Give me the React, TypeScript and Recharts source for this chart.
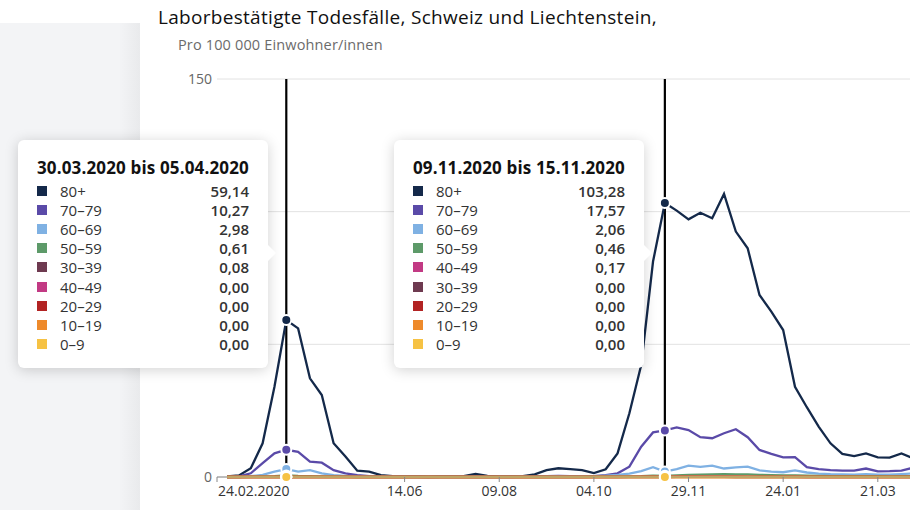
import React from 'react';
import { LineChart, Line, XAxis, YAxis, CartesianGrid, ReferenceLine } from 'recharts';

// weekly values per 100 000 inhabitants, first week 24.02.2020 – 01.03.2020
const age80 = [
  0.2, 0.6, 3.3, 12.7, 34.0, 59.14, 56.0, 37.2, 30.9, 12.7,
  7.7, 2.4, 2.0, 0.7, 0.3, 0.2, 0.2, 0.1, 0.2, 0.2,
  0.3, 1.2, 0.4, 0.2, 0.2, 0.3, 1.0, 2.6, 3.3, 3.0,
  2.6, 1.5, 2.9, 8.9, 24.0, 42.2, 81.2, 103.28, 100.4, 97.1,
  99.6, 97.5, 106.7, 92.5, 86.2, 68.6, 62.3, 55.4, 34.0, 26.3,
  19.0, 12.7, 8.7, 7.9, 8.9, 7.4, 7.3, 8.9, 7.0,
];
const age70 = [
  0.0, 0.2, 1.4, 5.2, 8.9, 10.27, 9.5, 5.8, 5.4, 2.6,
  1.4, 0.7, 0.3, 0.2, 0.1, 0.1, 0.1, 0.0, 0.1, 0.1,
  0.1, 0.2, 0.1, 0.1, 0.1, 0.1, 0.2, 0.3, 0.4, 0.3,
  0.3, 0.3, 0.7, 1.4, 3.9, 11.4, 16.8, 17.57, 18.7, 17.7,
  15.0, 14.6, 16.5, 18.0, 15.0, 10.2, 8.7, 7.4, 7.5, 3.7,
  3.0, 2.6, 2.4, 2.4, 3.2, 2.1, 2.2, 2.4, 3.5,
];
const age60 = [
  0.0, 0.0, 0.3, 0.8, 2.0, 2.98, 2.0, 2.6, 1.4, 0.7,
  0.4, 0.2, 0.1, 0.1, 0.0, 0.0, 0.0, 0.0, 0.0, 0.0,
  0.0, 0.1, 0.0, 0.0, 0.0, 0.1, 0.1, 0.1, 0.2, 0.1,
  0.2, 0.3, 0.5, 0.8, 1.3, 2.2, 3.7, 2.06, 3.0, 4.3,
  3.8, 4.3, 3.2, 3.6, 3.9, 2.5, 2.0, 1.8, 2.5, 1.7,
  1.3, 1.1, 1.0, 0.9, 1.1, 0.9, 0.9, 1.1, 1.3,
];
const age50 = [
  0.0, 0.0, 0.1, 0.2, 0.3, 0.61, 0.4, 0.3, 0.2, 0.1,
  0.1, 0.0, 0.0, 0.0, 0.0, 0.0, 0.0, 0.0, 0.0, 0.0,
  0.0, 0.0, 0.0, 0.0, 0.0, 0.0, 0.0, 0.0, 0.0, 0.0,
  0.0, 0.1, 0.1, 0.1, 0.2, 0.3, 0.5, 0.46, 0.6, 0.8,
  0.9, 1.0, 1.1, 1.0, 1.0, 0.8, 0.7, 0.6, 0.6, 0.5,
  0.4, 0.3, 0.3, 0.3, 0.3, 0.3, 0.2, 0.3, 0.3,
];
const age40 = [
  0.0, 0.0, 0.0, 0.0, 0.0, 0.0, 0.05, 0.0, 0.0, 0.0,
  0.0, 0.0, 0.0, 0.0, 0.0, 0.0, 0.0, 0.0, 0.0, 0.0,
  0.0, 0.0, 0.0, 0.0, 0.0, 0.0, 0.0, 0.0, 0.0, 0.0,
  0.0, 0.0, 0.0, 0.0, 0.05, 0.1, 0.1, 0.17, 0.2, 0.2,
  0.2, 0.2, 0.2, 0.2, 0.1, 0.1, 0.1, 0.1, 0.1, 0.0,
  0.0, 0.0, 0.0, 0.0, 0.0, 0.0, 0.0, 0.0, 0.0,
];
const age30 = [
  0.0, 0.0, 0.0, 0.0, 0.0, 0.08, 0.0, 0.0, 0.0, 0.0,
  0.0, 0.0, 0.0, 0.0, 0.0, 0.0, 0.0, 0.0, 0.0, 0.0,
  0.0, 0.0, 0.0, 0.0, 0.0, 0.0, 0.0, 0.0, 0.0, 0.0,
  0.0, 0.0, 0.0, 0.0, 0.0, 0.0, 0.05, 0.0, 0.05, 0.05,
  0.05, 0.05, 0.05, 0.0, 0.0, 0.0, 0.0, 0.0, 0.0, 0.0,
  0.0, 0.0, 0.0, 0.0, 0.0, 0.0, 0.0, 0.0, 0.0,
];
const age20 = [
  0, 0, 0, 0, 0, 0, 0, 0, 0, 0,
  0, 0, 0, 0, 0, 0, 0, 0, 0, 0,
  0, 0, 0, 0, 0, 0, 0, 0, 0, 0,
  0, 0, 0, 0, 0, 0, 0, 0, 0, 0,
  0, 0, 0, 0, 0, 0, 0, 0, 0, 0,
  0, 0, 0, 0, 0, 0, 0, 0, 0,
];
const age10 = [
  0, 0, 0, 0, 0, 0, 0, 0, 0, 0,
  0, 0, 0, 0, 0, 0, 0, 0, 0, 0,
  0, 0, 0, 0, 0, 0, 0, 0, 0, 0,
  0, 0, 0, 0, 0, 0, 0, 0, 0, 0,
  0, 0, 0, 0, 0, 0, 0, 0, 0, 0,
  0, 0, 0, 0, 0, 0, 0, 0, 0,
];
const age0 = [
  0, 0, 0, 0, 0, 0, 0, 0, 0, 0,
  0, 0, 0, 0, 0, 0, 0, 0, 0, 0,
  0, 0, 0, 0, 0, 0, 0, 0, 0, 0,
  0, 0, 0, 0, 0, 0, 0, 0, 0, 0,
  0, 0, 0, 0, 0, 0, 0, 0, 0, 0,
  0, 0, 0, 0, 0, 0, 0, 0, 0,
];

const groupNames = ['80+', '70–79', '60–69', '50–59', '40–49', '30–39', '20–29', '10–19', '0–9'];
const groupValues = [age80, age70, age60, age50, age40, age30, age20, age10, age0];
const groupColors = ['#14294a', '#5a4aa8', '#7fb1e3', '#5d9a69', '#c23a84', '#6e3a50', '#b22323', '#ee8a2b', '#f6c244'];

// x axis: days since 24.02.2020
const tickDays = [0, 111, 167, 223, 279, 335, 391];
const tickLabels = ['24.02.2020', '14.06', '09.08', '04.10', '29.11', '24.01', '21.03'];

// weeks with a pinned tooltip
const pinnedWeeks = [5, 37];
const pinnedLeft = [18, 394];

const FONT = "'Open Sans', 'Noto Sans', sans-serif";

const data = age80.map((_, i) => {
  const row: any = { day: 6 + 7 * i };
  groupValues.forEach((vals, k) => {
    row[`s${k}`] = vals[i];
  });
  return row;
});

const fmtDate = (d: Date) =>
  `${String(d.getUTCDate()).padStart(2, '0')}.${String(d.getUTCMonth() + 1).padStart(2, '0')}.${d.getUTCFullYear()}`;

const weekTitle = (i: number) => {
  const start = new Date(Date.UTC(2020, 1, 24 + 7 * i));
  const end = new Date(Date.UTC(2020, 1, 24 + 7 * i + 6));
  return `${fmtDate(start)} bis ${fmtDate(end)}`;
};

const fmtValue = (v: number) => v.toFixed(2).replace('.', ',');

const makeDot = (color: string) => (props: any) => {
  const { cx, cy, index } = props;
  if (!pinnedWeeks.includes(index)) return <g key={`d-${index}`} />;
  return <circle key={`d-${index}`} cx={cx} cy={cy} r={5} fill={color} stroke="#fff" strokeWidth={2} />;
};

const XTick = (props: any) => {
  const { x, y, payload, index } = props;
  const first = index === 0;
  const label = tickLabels[tickDays.indexOf(payload.value)];
  return (
    <text
      x={first ? x + 1 : x}
      y={y}
      dy="0.71em"
      textAnchor={first ? 'start' : 'middle'}
      fill="#333"
      fontSize={14}
      fontFamily={FONT}
    >
      {label}
    </text>
  );
};

const PinnedTooltip = ({ week, left }: { week: number; left: number }) => {
  const rows = groupNames
    .map((name, k) => ({ name, color: groupColors[k], value: groupValues[k][week] }))
    .sort((a, b) => b.value - a.value);
  return (
    <div
      style={{
        position: 'absolute',
        left,
        top: 140,
        width: 250,
        height: 228,
        background: '#fff',
        borderRadius: 6,
        boxShadow: '0 2px 14px rgba(0,0,0,0.18)',
        boxSizing: 'border-box',
        padding: '17px 19px 0 19px',
        fontFamily: FONT,
        color: '#333',
      }}
    >
      <div
        style={{
          fontWeight: 700,
          fontSize: 17,
          letterSpacing: 0.15,
          lineHeight: '22px',
          color: '#111',
          marginBottom: 2.5,
          whiteSpace: 'nowrap',
        }}
      >
        {weekTitle(week)}
      </div>
      {rows.map((r) => (
        <div key={r.name} style={{ display: 'flex', alignItems: 'center', height: 19.1, fontSize: 15 }}>
          <span style={{ width: 10, height: 10, background: r.color, marginRight: 13, flex: 'none' }} />
          <span style={{ flex: 1 }}>{r.name}</span>
          <span style={{ fontWeight: 600 }}>{fmtValue(r.value)}</span>
        </div>
      ))}
      <div
        style={{
          position: 'absolute',
          right: -8,
          top: 105,
          width: 0,
          height: 0,
          borderTop: '8px solid transparent',
          borderBottom: '8px solid transparent',
          borderLeft: '8px solid #fff',
        }}
      />
    </div>
  );
};

export default function App() {
  return (
    <div
      style={{
        position: 'fixed',
        left: 0,
        top: 0,
        width: 910,
        height: 510,
        overflow: 'hidden',
        background: '#fff',
        fontFamily: FONT,
      }}
    >
      <div
        style={{
          position: 'absolute',
          left: 0,
          top: 23,
          width: 140,
          height: 487,
          background: 'linear-gradient(to right, #f3f4f6 85%, #e9eaec)',
        }}
      />
      <div
        style={{
          position: 'absolute',
          left: 158,
          top: 5,
          fontSize: 19,
          fontWeight: 500,
          letterSpacing: 0.3,
          lineHeight: '24px',
          color: '#111',
          whiteSpace: 'nowrap',
        }}
      >
        Laborbestätigte Todesfälle, Schweiz und Liechtenstein,
      </div>
      <div
        style={{
          position: 'absolute',
          left: 178,
          top: 35,
          fontSize: 14.5,
          letterSpacing: 0.15,
          lineHeight: '20px',
          color: '#6b6b6b',
          whiteSpace: 'nowrap',
        }}
      >
        Pro 100 000 Einwohner/innen
      </div>
      <div style={{ position: 'absolute', left: 0, top: 0 }}>
        <LineChart width={914} height={510} data={data} margin={{ top: 79, right: 0.7, bottom: 3, left: 0 }}>
          <CartesianGrid vertical={false} stroke="#e2e2e2" />
          <XAxis
            type="number"
            dataKey="day"
            domain={[0, 412]}
            allowDataOverflow
            ticks={tickDays}
            tick={<XTick />}
            tickSize={5}
            tickMargin={4}
            height={30}
            stroke="#888"
            interval={0}
          />
          <YAxis
            width={217}
            domain={[0, 150]}
            ticks={[0, 50, 100, 150]}
            axisLine={false}
            tickLine={false}
            tickSize={0}
            tickMargin={5}
            tick={{ fill: '#666', fontSize: 14, fontFamily: FONT }}
          />
          {pinnedWeeks.map((w) => (
            <ReferenceLine key={w} x={6 + 7 * w} stroke="#000" strokeWidth={2.2} />
          ))}
          {groupNames.map((name, k) => (
            <Line
              key={name}
              type="linear"
              dataKey={`s${k}`}
              name={name}
              stroke={groupColors[k]}
              strokeWidth={2.3}
              dot={makeDot(groupColors[k])}
              activeDot={false}
              isAnimationActive={false}
            />
          ))}
        </LineChart>
      </div>
      {pinnedWeeks.map((w, i) => (
        <PinnedTooltip key={w} week={w} left={pinnedLeft[i]} />
      ))}
    </div>
  );
}
